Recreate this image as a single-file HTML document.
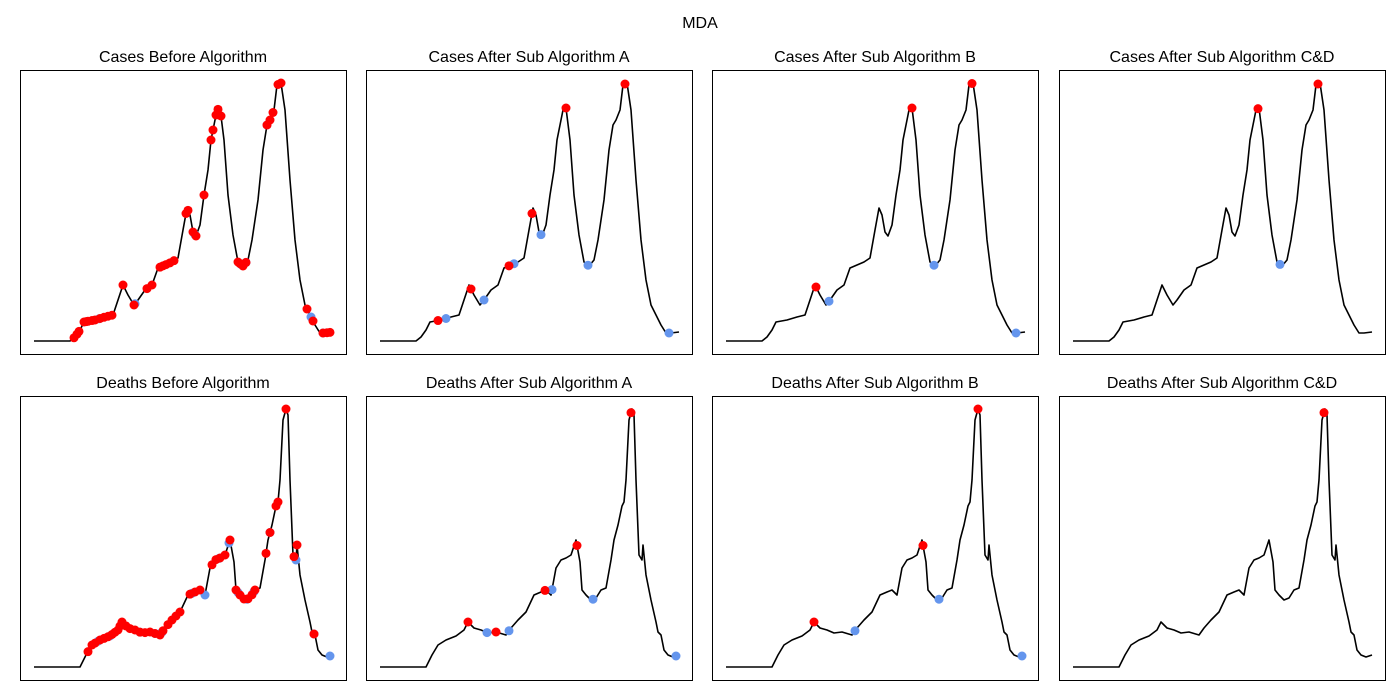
<!DOCTYPE html>
<html><head><meta charset="utf-8"><style>
body{margin:0;background:#fff;}
svg{display:block;font-family:"Liberation Sans","DejaVu Sans",sans-serif;}
</style></head><body>
<svg id="fig" width="1400" height="700" viewBox="0 0 1400 700">
<text x="700" y="28" text-anchor="middle" font-size="16">MDA</text>
</svg>
<script>
const casesDays=[0,72,82,92,100,122,142,158,168,178,188,200,208,222,236,248,262,276,288,298,306,312,318,324,332,340,348,354,360,366,372,380,388,398,408,418,428,436,448,458,466,472,480,486,494,502,512,522,532,542,552,562,572,582,598];
const casesVals=[0,0,400,1100,1900,2100,2400,2600,4100,5600,4600,3600,4100,5100,5600,7300,7600,7900,8300,11100,13300,12600,10900,10500,11600,14600,17100,20100,21600,23100,23300,20100,14600,10600,7900,7500,8100,10100,14100,19100,21600,22100,23100,25600,25800,23100,16100,10100,6100,3600,2600,1600,800,800,900];
const deathsDays=[0,92,104,116,132,152,168,176,188,202,216,232,252,262,276,292,308,322,332,342,352,362,372,382,392,400,404,412,422,432,442,452,462,468,476,484,488,492,498,504,508,512,518,524,526,532,542,552,556,562,568,576,586,592,598];
const deathsVals=[0,0,120,220,270,310,370,450,390,370,340,350,320,390,470,550,720,750,770,720,990,1070,1090,1120,1270,1050,770,720,670,690,770,790,1070,1270,1420,1610,1650,1870,2470,2580,2520,1870,1120,1070,1220,920,670,450,350,320,170,120,100,110,120];
const titles=["Cases Before Algorithm","Cases After Sub Algorithm A","Cases After Sub Algorithm B","Cases After Sub Algorithm C&D","Deaths Before Algorithm","Deaths After Sub Algorithm A","Deaths After Sub Algorithm B","Deaths After Sub Algorithm C&D"];
const peaks=[
[80,86,90,100,104,108,116,122,132,140,148,156,178,200,226,236,252,258,264,272,280,304,308,318,324,340,354,358,364,368,374,408,412,418,424,466,472,478,488,494,546,558,578,586,592],
[116,182,258,304,372,490],[180,372,492],[370,490],
[108,116,122,132,140,148,156,162,168,172,176,184,192,202,212,222,232,242,252,258,268,276,284,292,312,322,332,356,364,372,382,392,404,412,420,428,436,442,464,472,484,488,504,520,526,560],
[176,232,330,394,502],[176,394,504],[502]];
const troughs=[
[130,202,322,414,424,466,554,578],
[132,208,268,322,416,578],[206,416,580],[414],
[128,152,212,242,256,316,342,370,390,408,426,440,472,524,560,592],
[214,258,344,426,592],[258,426,592],[]];
const lefts=[20,366,712,1059],tops=[70,396],W=326,H=284;
const svg=document.getElementById('fig'),NS="http://www.w3.org/2000/svg";
function mk(t,a){const e=document.createElementNS(NS,t);for(const k in a)e.setAttribute(k,a[k]);return e;}
function interp(ds,vs,d){for(let i=1;i<ds.length;i++){if(d<=ds[i]){const f=(d-ds[i-1])/(ds[i]-ds[i-1]);return vs[i-1]+f*(vs[i]-vs[i-1]);}}return vs[vs.length-1];}
for(let p=0;p<8;p++){
  const L=lefts[p%4],T=tops[p<4?0:1];
  const ds=p<4?casesDays:deathsDays,vs=p<4?casesVals:deathsVals,sc=p<4?100:10;
  const xS=d=>L+14+d/2, yS=v=>T+271-v/sc;
  const g=mk('g',{});
  
  
  svg.appendChild(g);
  const t=mk('text',{x:L+W/2,y:T-8,'text-anchor':'middle','font-size':16});
  
  
  t.textContent=titles[p];g.appendChild(t);
  const r=mk('rect',{x:L+0.5,y:T+0.5,width:W,height:H,fill:'none',stroke:'#000','stroke-width':1});
  
  
  g.appendChild(r);
  const pts=ds.map((d,i)=>xS(d).toFixed(1)+','+yS(vs[i]).toFixed(1)).join(' ');
  const pl=mk('polyline',{points:pts,fill:'none',stroke:'#000','stroke-width':1.6,'stroke-linejoin':'round'});
  
  
  g.appendChild(pl);
  troughs[p].forEach(d=>{const c=mk('circle',{cx:xS(d),cy:yS(interp(ds,vs,d)),r:4.5,fill:'#6495ed'});
    
    
    g.appendChild(c);});
  peaks[p].forEach(d=>{const c=mk('circle',{cx:xS(d),cy:yS(interp(ds,vs,d)),r:4.5,fill:'#ff0000'});
    
    
    g.appendChild(c);});
}
</script>
</body></html>
